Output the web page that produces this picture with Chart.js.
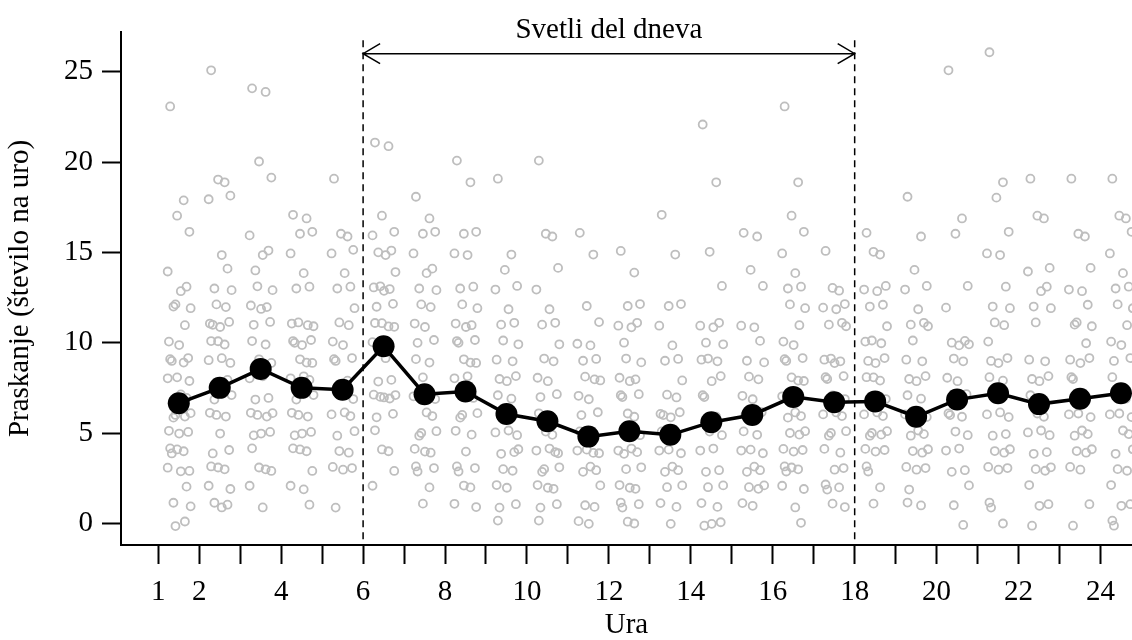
<!DOCTYPE html>
<html lang="sl">
<head>
<meta charset="UTF-8" />
<title>Praskanje po urah</title>
<script src="https://cdn.jsdelivr.net/npm/chart.js"></script>
<style>
    html, body {
        margin: 0;
        padding: 0;
        overflow: hidden;
        background: #ffffff;
    }
    #wrap {
        width: 1132px;
        height: 640px;
    }
    canvas {
        display: block;
    }
</style>
</head>
<body>
<div id="wrap"><canvas id="chart" width="1132" height="640" style="width:1132px;height:640px"></canvas></div>
<script>
// ure na osi x
const hourTicks = [1, 2, 3, 4, 5, 6, 7, 8, 9, 10, 11, 12, 13, 14, 15, 16, 17, 18, 19, 20, 21, 22, 23, 24];
const labeledHours = [1, 2, 4, 6, 8, 10, 12, 14, 16, 18, 20, 22, 24];
const yTicks = [0, 5, 10, 15, 20, 25];

// povprečje na uro (sredina ure)
const meanHours = [1.5, 2.5, 3.5, 4.5, 5.5, 6.5, 7.5, 8.5, 9.5, 10.5, 11.5, 12.5, 13.5, 14.5, 15.5, 16.5, 17.5, 18.5, 19.5, 20.5, 21.5, 22.5, 23.5, 24.5];
const meanValues = [6.65, 7.5, 8.55, 7.5, 7.4, 9.8, 7.15, 7.3, 6.05, 5.65, 4.8, 5.1, 4.9, 5.6, 6.0, 7.0, 6.7, 6.75, 5.9, 6.85, 7.2, 6.6, 6.9, 7.2];

// posamezna opazovanja po urah
const hour01 = [23, 18, 17, 16, 14, 13, 13, 12, 12, 12, 11, 10, 10, 9, 9, 9, 9, 8, 8, 8, 7, 7, 6, 6, 6, 6, 5, 5, 5, 4, 4, 4, 4, 3, 3, 3, 2, 1, 1, 0, 0];
const hour02 = [25, 19, 19, 18, 18, 15, 14, 13, 13, 12, 12, 11, 11, 11, 11, 10, 10, 10, 9, 9, 9, 8, 7, 7, 6, 6, 6, 5, 4, 4, 3, 3, 3, 2, 2, 1, 1, 1];
const hour03 = [24, 24, 20, 19, 16, 15, 15, 14, 13, 13, 12, 12, 12, 11, 11, 10, 10, 9, 9, 8, 8, 7, 7, 6, 6, 6, 6, 5, 5, 5, 4, 3, 3, 3, 2, 1];
const hour04 = [17, 17, 16, 16, 15, 14, 13, 13, 11, 11, 11, 11, 10, 10, 10, 10, 9, 9, 9, 8, 8, 8, 7, 7, 6, 6, 6, 5, 5, 5, 4, 4, 4, 3, 2, 2, 1];
const hour05 = [19, 16, 16, 15, 15, 14, 13, 13, 12, 11, 11, 10, 10, 9, 9, 9, 8, 7, 7, 6, 6, 6, 5, 5, 4, 4, 3, 3, 3, 1];
const hour06 = [21, 21, 17, 16, 16, 15, 15, 15, 14, 13, 13, 13, 13, 12, 12, 11, 11, 11, 11, 10, 9, 8, 8, 7, 7, 7, 7, 7, 6, 6, 5, 4, 4, 3, 2];
const hour07 = [18, 17, 16, 16, 15, 14, 14, 13, 13, 12, 12, 11, 11, 10, 10, 9, 9, 8, 7, 7, 6, 6, 5, 5, 5, 4, 4, 4, 3, 3, 3, 2, 1];
const hour08 = [20, 19, 16, 16, 15, 15, 13, 13, 12, 12, 11, 11, 11, 10, 10, 10, 9, 9, 9, 8, 8, 7, 6, 6, 6, 5, 5, 4, 3, 3, 3, 2, 2, 1, 1];
const hour09 = [19, 15, 14, 13, 13, 12, 11, 11, 10, 10, 9, 9, 8, 8, 8, 7, 7, 6, 5, 5, 5, 4, 4, 4, 3, 3, 2, 2, 1, 1, 0];
const hour10 = [20, 16, 16, 14, 13, 12, 11, 11, 10, 9, 9, 8, 8, 7, 7, 6, 5, 5, 4, 4, 4, 4, 3, 3, 3, 2, 2, 2, 1, 1, 0];
const hour11 = [16, 15, 12, 11, 10, 10, 9, 9, 8, 8, 8, 7, 7, 6, 6, 5, 4, 4, 4, 4, 3, 3, 3, 2, 1, 1, 0, 0];
const hour12 = [15, 14, 12, 12, 11, 11, 11, 10, 9, 9, 8, 8, 8, 7, 7, 7, 6, 6, 5, 4, 4, 4, 4, 3, 3, 2, 2, 2, 1, 1, 1, 0, 0];
const hour13 = [17, 15, 12, 12, 11, 10, 9, 9, 8, 7, 7, 6, 6, 6, 6, 5, 5, 4, 4, 4, 3, 3, 3, 2, 2, 1, 1, 0];
const hour14 = [22, 19, 15, 13, 11, 11, 11, 10, 10, 9, 9, 9, 8, 8, 7, 7, 6, 5, 5, 4, 4, 3, 3, 2, 2, 1, 1, 0, 0, 0];
const hour15 = [16, 16, 14, 13, 11, 11, 10, 9, 9, 8, 8, 7, 7, 6, 6, 5, 5, 4, 4, 4, 3, 3, 3, 2, 2, 2, 1, 1];
const hour16 = [23, 19, 17, 16, 15, 14, 13, 13, 12, 12, 11, 10, 10, 9, 9, 9, 8, 8, 8, 7, 6, 6, 6, 5, 5, 5, 4, 4, 4, 3, 3, 3, 3, 2, 2, 1, 0];
const hour17 = [15, 13, 13, 12, 12, 12, 11, 11, 11, 9, 9, 9, 9, 8, 8, 8, 7, 7, 7, 6, 6, 6, 5, 5, 5, 4, 4, 3, 3, 2, 2, 2, 1, 1];
const hour18 = [16, 15, 15, 13, 13, 13, 12, 12, 11, 10, 10, 10, 9, 9, 9, 8, 8, 8, 7, 6, 6, 6, 5, 5, 5, 5, 4, 4, 4, 3, 3, 2, 1];
const hour19 = [18, 16, 14, 13, 13, 12, 11, 11, 11, 10, 9, 9, 8, 8, 8, 7, 7, 6, 6, 6, 5, 5, 5, 4, 4, 4, 3, 3, 3, 2, 1, 1];
const hour20 = [25, 17, 16, 13, 12, 10, 10, 10, 10, 9, 9, 8, 8, 7, 6, 6, 6, 5, 5, 4, 4, 3, 3, 2, 1, 0];
const hour21 = [26, 19, 18, 16, 15, 15, 13, 12, 12, 11, 11, 10, 9, 9, 9, 8, 8, 7, 6, 6, 6, 5, 5, 4, 4, 4, 3, 3, 3, 1, 1, 0];
const hour22 = [19, 17, 17, 14, 14, 13, 13, 12, 12, 11, 9, 9, 8, 8, 8, 7, 6, 6, 5, 5, 5, 4, 4, 3, 3, 3, 2, 1, 1, 0];
const hour23 = [19, 16, 16, 14, 13, 13, 12, 11, 11, 11, 10, 9, 9, 9, 8, 8, 7, 6, 6, 6, 5, 5, 5, 4, 4, 4, 3, 3, 1, 0];
const hour24 = [19, 17, 17, 16, 15, 14, 13, 13, 12, 12, 11, 10, 10, 9, 9, 8, 7, 6, 6, 6, 5, 5, 4, 4, 3, 3, 2, 1, 1, 0, 0];

const hourData = [hour01, hour02, hour03, hour04, hour05, hour06, hour07, hour08, hour09, hour10, hour11, hour12,
    hour13, hour14, hour15, hour16, hour17, hour18, hour19, hour20, hour21, hour22, hour23, hour24];

// fiksen vzorec razpršitve (jitter) točk okoli sredine ure
const jitterX = [-0.21, 0.12, -0.04, 0.26, -0.27, 0.05, 0.19, -0.13, 0.29, -0.08, 0.15, -0.24, 0.01, 0.23, -0.17];
const jitterY = [0.08, -0.12, 0.03, 0.14, -0.06, -0.15, 0.1, 0, -0.09, 0.12, -0.03, 0.06, -0.13, 0.15, -0.01, 0.09, -0.1];

// svetli del dneva
const dayStart = 6;
const dayEnd = 18;
const dayLabel = 'Svetli del dneva';

const FONT = "'Liberation Serif', 'Times New Roman', serif";
const FONT_SIZE = 29;

const scatterPoints = [];
hourData.forEach((vals, h) => {
    vals.forEach((v, i) => {
        scatterPoints.push({
            x: hourTicks[h] + 0.5 + jitterX[i % jitterX.length],
            y: v + jitterY[i % jitterY.length]
        });
    });
});

const meanPoints = meanHours.map((x, i) => ({x, y: meanValues[i]}));

// dnevni del: črtkane črte, puščica in napis
const dayPlugin = {
    id: 'dayPlugin',
    afterDraw(chart) {
        const ctx = chart.ctx;
        const xs = chart.scales.x;
        const ys = chart.scales.y;
        const x1 = xs.getPixelForValue(dayStart);
        const x2 = xs.getPixelForValue(dayEnd);
        const yTop = ys.getPixelForValue(26.75);
        const yArrow = ys.getPixelForValue(26.0);
        const yBottom = chart.chartArea.bottom;

        ctx.save();
        ctx.strokeStyle = '#000';
        ctx.lineWidth = 1.5;
        ctx.setLineDash([7, 5]);
        [x1, x2].forEach(x => {
            ctx.beginPath();
            ctx.moveTo(x, yTop);
            ctx.lineTo(x, yBottom);
            ctx.stroke();
        });

        ctx.setLineDash([]);
        ctx.beginPath();
        ctx.moveTo(x1, yArrow);
        ctx.lineTo(x2, yArrow);
        ctx.moveTo(x1 + 17, yArrow - 10);
        ctx.lineTo(x1, yArrow);
        ctx.lineTo(x1 + 17, yArrow + 10);
        ctx.moveTo(x2 - 17, yArrow - 10);
        ctx.lineTo(x2, yArrow);
        ctx.lineTo(x2 - 17, yArrow + 10);
        ctx.stroke();

        ctx.fillStyle = '#000';
        ctx.font = FONT_SIZE + 'px ' + FONT;
        ctx.textAlign = 'center';
        ctx.textBaseline = 'alphabetic';
        ctx.fillText(dayLabel, (x1 + x2) / 2, ys.getPixelForValue(26.85));
        ctx.restore();
    }
};

new Chart(document.getElementById('chart'), {
    type: 'scatter',
    data: {
        datasets: [
            {
                label: 'Povprečje',
                data: meanPoints,
                showLine: true,
                borderColor: '#000',
                borderWidth: 3.5,
                backgroundColor: '#000',
                pointRadius: 11,
                pointBorderWidth: 0,
                order: 0
            },
            {
                label: 'Opazovanja',
                data: scatterPoints,
                borderColor: '#bebebe',
                backgroundColor: 'rgba(0,0,0,0)',
                borderWidth: 1.8,
                pointRadius: 4,
                order: 1
            }
        ]
    },
    options: {
        responsive: false,
        animation: false,
        devicePixelRatio: 1,
        layout: {
            autoPadding: false,
            padding: {top: 32, left: 0, right: 0, bottom: 0}
        },
        plugins: {
            legend: {display: false},
            tooltip: {enabled: false}
        },
        scales: {
            x: {
                type: 'linear',
                min: 0.09,
                max: 24.77,
                afterBuildTicks: s => { s.ticks = hourTicks.map(v => ({value: v})); },
                afterFit: s => {
                    s.height = 95;
                    s.paddingLeft = 0;
                    s.paddingRight = 0;
                },
                grid: {
                    drawOnChartArea: false,
                    drawTicks: true,
                    tickLength: 19,
                    tickWidth: 2,
                    tickColor: '#000'
                },
                border: {color: '#000', width: 2},
                ticks: {
                    autoSkip: false,
                    maxRotation: 0,
                    padding: 11,
                    color: '#000',
                    font: {family: FONT, size: FONT_SIZE},
                    callback: v => labeledHours.includes(v) ? String(v) : ''
                },
                title: {
                    display: true,
                    text: 'Ura',
                    color: '#000',
                    font: {family: FONT, size: FONT_SIZE, lineHeight: 1},
                    padding: {top: 0, bottom: 0}
                }
            },
            y: {
                min: -1.2,
                max: 27.2,
                afterBuildTicks: s => { s.ticks = yTicks.map(v => ({value: v})); },
                afterFit: s => {
                    s.width = 121;
                    s.paddingTop = 0;
                    s.paddingBottom = 0;
                },
                grid: {
                    drawOnChartArea: false,
                    drawTicks: true,
                    tickLength: 19,
                    tickWidth: 2,
                    tickColor: '#000'
                },
                border: {color: '#000', width: 2},
                ticks: {
                    padding: 9,
                    color: '#000',
                    font: {family: FONT, size: FONT_SIZE}
                },
                title: {
                    display: true,
                    text: 'Praskanje (število na uro)',
                    color: '#000',
                    font: {family: FONT, size: FONT_SIZE, lineHeight: 1},
                    padding: {top: 6, bottom: 0}
                }
            }
        }
    },
    plugins: [dayPlugin]
});
</script>
</body>
</html>
